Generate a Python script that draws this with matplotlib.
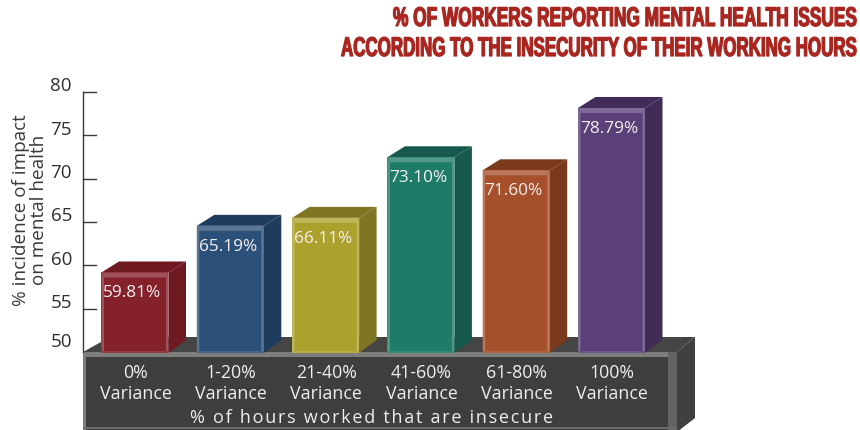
import matplotlib
matplotlib.use("Agg")
import matplotlib.pyplot as plt
from matplotlib.colors import to_rgb
from matplotlib.patheffects import AbstractPathEffect
from matplotlib.transforms import Affine2D

categories = ["0%\nVariance", "1-20%\nVariance", "21-40%\nVariance",
              "41-60%\nVariance", "61-80%\nVariance", "100%\nVariance"]
values = [59.81, 65.19, 66.11, 73.10, 71.60, 78.79]
labels = ["59.81%", "65.19%", "66.11%", "73.10%", "71.60%", "78.79%"]
front_colors = ["#85212b", "#2b5079", "#ada12e", "#1e7b67", "#a64f2b", "#5b3f78"]
side_colors = ["#6e1a20", "#1f3b5e", "#7f7522", "#16594c", "#7c3a1c", "#412c57"]
yticks = [50, 55, 60, 65, 70, 75, 80]
title_lines = ["% OF WORKERS REPORTING MENTAL HEALTH ISSUES",
               "ACCORDING TO THE INSECURITY OF THEIR WORKING HOURS"]
ylabel = "% incidence of impact\non mental health"
xlabel = "% of hours worked that are insecure"

W, H = 860, 430
PX = 95.3      # pixels per category
PY = 8.667     # pixels per value unit
X0, Y0 = 135, 352   # pixel of category 0, value 50
FONT = "Open Sans"


class HorizontalSqueeze(AbstractPathEffect):
    """Condense a text horizontally about a fixed display x and embolden it."""

    def __init__(self, factor, anchor_x, stroke=0.9):
        super().__init__()
        self.factor = factor
        self.anchor_x = anchor_x
        self.stroke = stroke

    def draw_path(self, renderer, gc, tpath, affine, rgbFace=None):
        squeeze = (Affine2D().translate(-self.anchor_x, 0)
                   .scale(self.factor, 1).translate(self.anchor_x, 0))
        gc0 = renderer.new_gc()
        gc0.copy_properties(gc)
        gc0.set_linewidth(self.stroke)
        gc0.set_foreground(rgbFace)
        renderer.draw_path(gc0, tpath, affine + squeeze, rgbFace)
        gc0.restore()


fig = plt.figure(figsize=(W / 100, H / 100), dpi=100, facecolor="white")
ax = fig.add_axes([0, 0, 1, 1])
ax.set_xlim(-X0 / PX, (W - X0) / PX)
ax.set_ylim(50 - (H - Y0) / PY, 50 + Y0 / PY)
ax.axis("off")


def dx(p):
    return p / PX


def dy(p):
    return p / PY


def lighten(c, f):
    r = to_rgb(c)
    return tuple(v + (1 - v) * f for v in r)


# platform
left = dx(83 - X0)
right = dx(668 - X0)
right_band = dx(677 - X0)
bottom = 50 - dy(H - Y0 + 2)
ax.fill([left, left + dx(27), dx(695 - X0), right_band],
        [50, 50 + dy(15), 50 + dy(15), 50], color="#454543", lw=0, zorder=1)
ax.fill([right_band, dx(695 - X0), dx(695 - X0), right_band],
        [50, 50 + dy(15), 50 - dy(66), bottom], color="#40403e", lw=0, zorder=1)
ax.fill([left, right_band, right_band, left],
        [50, 50, bottom, bottom], color="#3e3e3c", lw=0, zorder=1)
ax.fill([left, right_band, right_band, left],
        [50, 50, 50 - dy(5), 50 - dy(5)], color="#7d7d7b", lw=0, zorder=2)
ax.fill([left, left + dx(3), left + dx(3), left],
        [50, 50, bottom, bottom], color="#7d7d7b", lw=0, zorder=2)
ax.fill([right, right_band, right_band, right],
        [50, 50, bottom, bottom], color="#636361", lw=0, zorder=2)
ax.fill([left, right_band, right_band, left],
        [bottom + dy(5), bottom + dy(5), bottom + dy(3), bottom + dy(3)],
        color="#6d6d6b", lw=0, zorder=2)

# value axis
ax.plot([left, left], [50, yticks[-1]], color="#3a3a3a", lw=1, zorder=3)
for t in yticks:
    if t > 50:
        ax.plot([left, left + dx(13)], [t, t], color="#3a3a3a", lw=1, zorder=3)
    ax.annotate(str(t), (left, t), xytext=(-8, 4 if t > 50 else 7.5),
                textcoords="offset points", ha="right", va="center",
                family=FONT, fontsize=13.5, color="#2e2e2e")

ax.text(dx(30 - X0), 50 + dy(352 - 210), ylabel, rotation=90, ha="center",
        va="center", family=FONT, fontsize=13.6, color="#3a3a3a", linespacing=1.0)

# bars
half = dx(33.5)
depth_x = dx(17.5)
depth_y = dy(11)
bev_top = dy(5)
bev_side = dx(2.5)
for i, (v, fc, sc, lab, cat) in enumerate(zip(values, front_colors, side_colors, labels, categories)):
    x = i
    base = 50 - dy(1)
    top = v - depth_y / 2
    xl, xr = x - half, x + half
    # side and top faces
    ax.fill([xr, xr + depth_x, xr + depth_x, xr],
            [base, base + depth_y + dy(2), top + depth_y, top], color=sc, lw=0, zorder=4)
    ax.fill([xl, xl + depth_x, xr + depth_x, xr],
            [top, top + depth_y, top + depth_y, top], color=sc, lw=0, zorder=4)
    # front face and bevels
    ax.fill([xl, xr, xr, xl], [base, base, top, top], color=fc, lw=0, zorder=5)
    light = lighten(fc, 0.22)
    ax.fill([xl, xr, xr - bev_side, xl + bev_side],
            [top, top, top - bev_top, top - bev_top], color=light, lw=0, zorder=6)
    ax.fill([xl, xl + bev_side, xl + bev_side, xl],
            [top, top - bev_top, base, base], color=light, lw=0, zorder=6)
    ax.fill([xr, xr - bev_side, xr - bev_side, xr],
            [top, top - bev_top, base, base], color=light, lw=0, zorder=6)
    ax.fill([xl, xr, xr, xl], [base, base, base + dy(2), base + dy(2)],
            color=lighten(fc, 0.12), lw=0, zorder=6)
    ax.text(x - dx(2.5), top - dy(21), lab, ha="center", va="center", family=FONT,
            fontsize=12.4, color="#f4efef", zorder=7)
    ax.text(x + dx(0.5), 50 - dy(31.5), cat, ha="center", va="center", family=FONT,
            fontsize=12.8, color="#eeeeee", zorder=7, linespacing=1.27)

spaced = "\u200a".join(xlabel)
ax.text(dx(372 - X0), 50 - dy(66), spaced, ha="center", va="center",
        family=[FONT, "DejaVu Sans"], fontsize=13, color="#eeeeee", zorder=7)

# title
anchor = ax.transData.transform((dx(858 - X0), 50))[0]
renderer = fig.canvas.get_renderer()
for line, ypix, target in zip(title_lines, [19, 49], [465, 517]):
    t = ax.text(dx(858 - X0), 50 + dy(352 - ypix), line, ha="right", va="center",
                family="Liberation Sans", weight="bold", fontsize=19.5, color="#a8261f")
    t.set_path_effects([HorizontalSqueeze(target / t.get_window_extent(renderer).width, anchor)])

fig.savefig("out.png", dpi=100)
